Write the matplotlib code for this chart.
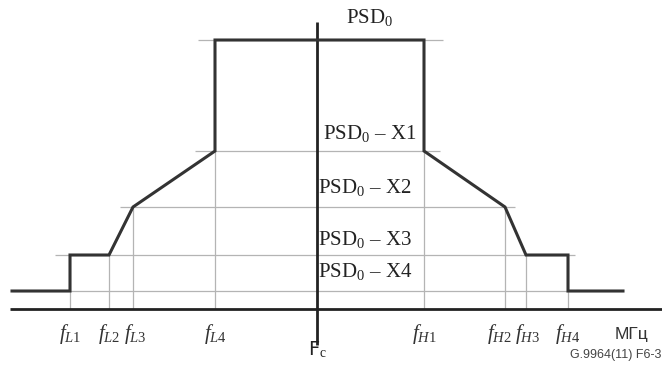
import matplotlib
matplotlib.use('Agg')
import matplotlib.pyplot as plt

plt.rcParams['mathtext.fontset'] = 'custom'
plt.rcParams['mathtext.rm'] = 'Liberation Serif'
plt.rcParams['mathtext.it'] = 'Liberation Serif:italic'

# Частоты перегибов маски (условные единицы по горизонтали)
f_names = ['L1', 'L2', 'L3', 'L4', 'H1', 'H2', 'H3', 'H4']
f_vals = [70, 109, 133, 215, 424, 505, 526, 568]
f_edge = [12, 623]
fc = 317

# Уровни PSD (условные единицы по вертикали)
lvl_names = ['PSD$_0$', 'PSD$_0$ – X1', 'PSD$_0$ – X2', 'PSD$_0$ – X3', 'PSD$_0$ – X4']
lvl_vals = [269, 158, 102, 54, 18]

# Маска: частота -> уровень
mask_f = [f_edge[0], f_vals[0], f_vals[0], f_vals[1], f_vals[2], f_vals[3], f_vals[3],
          f_vals[4], f_vals[4], f_vals[5], f_vals[6], f_vals[7], f_vals[7], f_edge[1]]
mask_y = [lvl_vals[4], lvl_vals[4], lvl_vals[3], lvl_vals[3], lvl_vals[2], lvl_vals[1], lvl_vals[0],
          lvl_vals[0], lvl_vals[1], lvl_vals[2], lvl_vals[3], lvl_vals[3], lvl_vals[4], lvl_vals[4]]

fig = plt.figure(figsize=(6.62, 3.71), dpi=100)
ax = fig.add_axes([0, 0, 1, 1])
ax.set_xlim(0, 662)
ax.set_ylim(-62, 309)
ax.axis('off')

grid = '#b4b4b4'
# горизонтальные линии уровней
ax.hlines(lvl_vals[0], 198, 443, color=grid, lw=0.9)
ax.hlines(lvl_vals[1], 195, 440, color=grid, lw=0.9)
ax.hlines(lvl_vals[2], 120, 515, color=grid, lw=0.9)
ax.hlines(lvl_vals[3], 55, 575, color=grid, lw=0.9)
ax.hlines(lvl_vals[4], f_edge[0], f_edge[1], color=grid, lw=0.9)
# вертикальные линии частот
ax.vlines(f_vals, 0, [lvl_vals[3], lvl_vals[3], lvl_vals[2], lvl_vals[1],
                      lvl_vals[1], lvl_vals[2], lvl_vals[3], lvl_vals[3]], color=grid, lw=0.9)

# ось частот и центральная линия
ax.plot([10, 662], [0, 0], color='#222222', lw=2.0, solid_capstyle='butt')
ax.plot([fc, fc], [-36, 287], color='#222222', lw=2.0, solid_capstyle='butt')

ax.plot(mask_f, mask_y, color='#333333', lw=2.2, solid_joinstyle='miter')

# подписи уровней
lvl_x = [370, 370, 365, 365, 365]
lvl_dy = [22, 18, 20, 16, 19]
for name, v, x, dy in zip(lvl_names, lvl_vals, lvl_x, lvl_dy):
    ax.text(x, v + dy, name, ha='center', va='center', fontsize=15,
            family='Liberation Serif', color='#222222')

# подписи частот
f_dx = [0, 0, 2, 0, 0, -6, 2, 0]
for n, v, dx in zip(f_names, f_vals, f_dx):
    ax.text(v + dx, -25, '$f_{%s}$' % n, ha='center', va='center', fontsize=15, color='#333333')

ax.text(fc, -41, 'F$_\\mathrm{c}$', ha='center', va='center', fontsize=14, color='#222222')
ax.text(632, -25, 'МГц', ha='center', va='center', fontsize=12.5, family='Liberation Sans', color='#333333')
ax.text(661, -46, 'G.9964(11) F6-3', ha='right', va='center', fontsize=9,
        family='Liberation Sans', color='#444444')

fig.savefig('out.png', dpi=100)
